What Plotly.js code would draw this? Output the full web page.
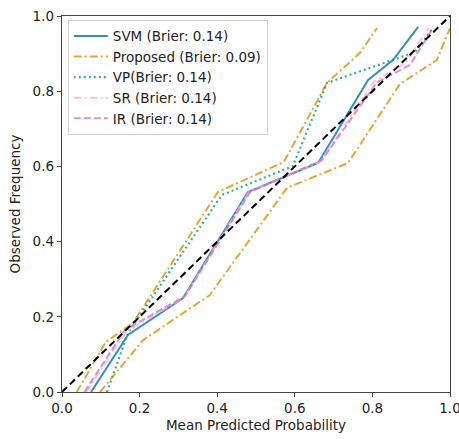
<!DOCTYPE html>
<html>
<head>
<meta charset="utf-8">
<script src="https://cdn.plot.ly/plotly-3.0.1.min.js"></script>
<style>html,body{margin:0;padding:0;background:#fff;}#chart{width:459px;height:439px;}</style>
</head>
<body>
<div id="chart"></div>
<script>
// Reference diagonal
const diag_x = [0, 1];
const diag_y = [0, 1];

// SVM
const svm_x = [0.075, 0.170, 0.312, 0.479, 0.660, 0.789, 0.853, 0.918];
const svm_y = [0.0, 0.152, 0.250, 0.532, 0.609, 0.830, 0.883, 0.971];

// Proposed (upper curve)
const prop_x = [0.038, 0.113, 0.183, 0.402, 0.572, 0.683, 0.768, 0.812];
const prop_y = [0.0, 0.133, 0.184, 0.532, 0.612, 0.822, 0.902, 0.968];

// Proposed (lower curve)
const prop2_x = [0.098, 0.209, 0.381, 0.580, 0.737, 0.871, 0.966, 1.0];
const prop2_y = [0.0, 0.138, 0.258, 0.543, 0.609, 0.819, 0.883, 0.968];

// VP
const vp_x = [0.116, 0.170, 0.412, 0.595, 0.683, 0.910, 0.956];
const vp_y = [0.0, 0.157, 0.524, 0.601, 0.822, 0.904, 0.968];

// SR
const sr_x = [0.062, 0.165, 0.315, 0.482, 0.665, 0.805, 0.885, 0.945];
const sr_y = [0.0, 0.160, 0.252, 0.532, 0.612, 0.826, 0.875, 0.968];

// IR
const ir_x = [0.058, 0.162, 0.317, 0.485, 0.670, 0.812, 0.897, 0.956];
const ir_y = [0.0, 0.165, 0.255, 0.532, 0.617, 0.824, 0.870, 0.968];

const names = ['SVM (Brier: 0.14)', 'Proposed (Brier: 0.09)', 'VP(Brier: 0.14)', 'SR (Brier: 0.14)', 'IR (Brier: 0.14)'];
const tickVals = [0, 0.2, 0.4, 0.6, 0.8, 1.0];
const tickText = ['0.0', '0.2', '0.4', '0.6', '0.8', '1.0'];

const traces = [
  {x: svm_x, y: svm_y, name: names[0], mode: 'lines', opacity: 0.8,
   line: {color: '#0173b2', width: 2, dash: 'solid'}},
  {x: prop_x, y: prop_y, name: names[1], mode: 'lines', opacity: 0.8, legendgroup: 'p',
   line: {color: '#de8f05', width: 2, dash: '8px,3px,2px,3px'}},
  {x: vp_x, y: vp_y, name: names[2], mode: 'lines', opacity: 0.8,
   line: {color: '#029e73', width: 2.2, dash: '2px,3px'}},
  {x: sr_x, y: sr_y, name: names[3], mode: 'lines', opacity: 0.8,
   line: {color: '#fbafe4', width: 2, dash: '8px,3px,2px,3px'}},
  {x: ir_x, y: ir_y, name: names[4], mode: 'lines', opacity: 0.8,
   line: {color: '#cc78bc', width: 2, dash: '7px,3px'}},
  {x: prop2_x, y: prop2_y, name: names[1], mode: 'lines', opacity: 0.8, legendgroup: 'p', showlegend: false,
   line: {color: '#de8f05', width: 2, dash: '8px,3px,2px,3px'}},
  {x: diag_x, y: diag_y, mode: 'lines', showlegend: false, hoverinfo: 'skip',
   line: {color: '#000000', width: 2, dash: '7px,4px'}}
];

const axisCommon = {
  range: [0, 1], showgrid: false, zeroline: false,
  showline: true, mirror: true, linecolor: '#444', linewidth: 1.2,
  ticks: 'outside', ticklen: 4, tickwidth: 1, tickcolor: '#444',
  tickvals: tickVals, ticktext: tickText,
  ticklabeloverflow: 'allow',
  tickfont: {family: 'DejaVu Sans', size: 13.5, color: '#222'},
  automargin: false
};

const layout = {
  width: 459, height: 439,
  margin: {l: 62, r: 9, t: 16, b: 47},
  paper_bgcolor: '#fff', plot_bgcolor: '#fff',
  font: {family: 'DejaVu Sans', size: 13.5, color: '#222'},
  xaxis: Object.assign({}, axisCommon, {title: {text: 'Mean Predicted Probability', font: {size: 13.5}, standoff: 5}}),
  yaxis: Object.assign({}, axisCommon, {title: {text: 'Observed Frequency', font: {size: 13.5}, standoff: 8}}),
  legend: {x: 0.015, y: 0.99, xanchor: 'left', yanchor: 'top',
    bgcolor: 'rgba(255,255,255,0.85)', bordercolor: '#d0d0d0', borderwidth: 1,
    font: {family: 'DejaVu Sans', size: 13.5, color: '#222'},
    itemwidth: 34, tracegroupgap: 0},
  showlegend: true
};

Plotly.newPlot('chart', traces, layout, {displayModeBar: false, staticPlot: true});
</script>
</body>
</html>
